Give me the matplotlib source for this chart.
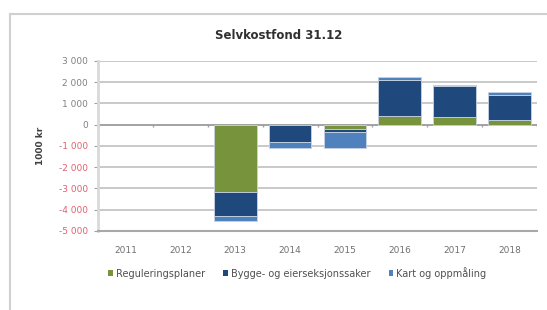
import numpy as np
import matplotlib
matplotlib.use('Agg')
import matplotlib.pyplot as plt
from matplotlib.lines import Line2D
from matplotlib.ticker import FuncFormatter

# data (1000 kr)
years = ['2011', '2012', '2013', '2014', '2015', '2016', '2017', '2018']
regulering = [0, 0, -3150, -30, -230, 380, 350, 200]
bygge = [0, 0, -1150, -800, -120, 1720, 1480, 1190]
kart = [0, 0, -250, -260, -730, 160, 20, 120]

series = [
    ('Reguleringsplaner', regulering, '#77933C'),
    ('Bygge- og eierseksjonssaker', bygge, '#1F497D'),
    ('Kart og oppmåling', kart, '#4F81BD'),
]

plt.rcParams['font.family'] = ['DejaVu Sans']

fig = plt.figure(figsize=(5.47, 3.10), dpi=100)
ax = fig.add_axes([0.179, 0.255, 0.803, 0.549])

x = np.arange(len(years))
pos_base = np.zeros(len(years))
neg_base = np.zeros(len(years))
for name, vals, col in series:
    v = np.array(vals, dtype=float)
    base = np.where(v >= 0, pos_base, neg_base)
    lw = [0.6 if val != 0 else 0 for val in v]
    ax.bar(x, v, bottom=base, width=0.78, color=col, label=name,
           edgecolor='#C8D3E3', linewidth=lw, zorder=3)
    pos_base += np.where(v >= 0, v, 0)
    neg_base += np.where(v < 0, v, 0)

ax.set_xlim(-0.5, len(years) - 0.5)
ax.set_ylim(-5000, 3000)
ax.set_yticks(np.arange(-5000, 3001, 1000))
ax.yaxis.set_major_formatter(FuncFormatter(lambda v, p: f'{int(v):,}'.replace(',', ' ')))
ax.grid(axis='y', color='#C0C0C0', linewidth=1.2, zorder=0)
ax.tick_params(axis='y', length=3, labelsize=6.5, color='#A0A0A0', labelcolor='#808080', pad=4)
for lbl, val in zip(ax.get_yticklabels(), ax.get_yticks()):
    if val < 0:
        lbl.set_color('#E06070')

ax.set_xticks(x)
ax.set_xticklabels(years)
ax.tick_params(axis='x', length=0, labelsize=6.5, labelcolor='#707070', pad=11)

# zero line with category tick marks
ax.axhline(0, color='#A0A0A0', linewidth=1.3, zorder=2)
bounds = np.arange(len(years) + 1) - 0.5
ax.vlines(bounds, -120, 0, color='#A0A0A0', linewidth=1, zorder=2)

for s in ['top', 'right']:
    ax.spines[s].set_visible(False)
ax.spines['left'].set_color('#D9D9D9')
ax.spines['left'].set_linewidth(2)
ax.spines['bottom'].set_color('#A8A8A8')
ax.spines['bottom'].set_linewidth(1.5)

ax.set_ylabel('1000 kr', fontsize=6.5, color='#404040', fontweight='bold', labelpad=10)
fig.text(0.51, 0.887, 'Selvkostfond 31.12', ha='center', va='center',
         fontsize=8.5, color='#303030', fontweight='bold')

ax.legend(loc='center left', bbox_to_anchor=(0.015, -0.245), ncol=3, frameon=False,
          fontsize=7, handlelength=0.5, handleheight=0.6, columnspacing=1.9,
          handletextpad=0.25, labelcolor='#505050', borderaxespad=0)

# outer chart border (cropped)
fig.add_artist(Line2D([10 / 547, 1], [1 - 14 / 310, 1 - 14 / 310], color='#D0D0D0', linewidth=1.5))
fig.add_artist(Line2D([10 / 547, 10 / 547], [0, 1 - 14 / 310], color='#D0D0D0', linewidth=1.5))

fig.savefig('out.png', dpi=100)
